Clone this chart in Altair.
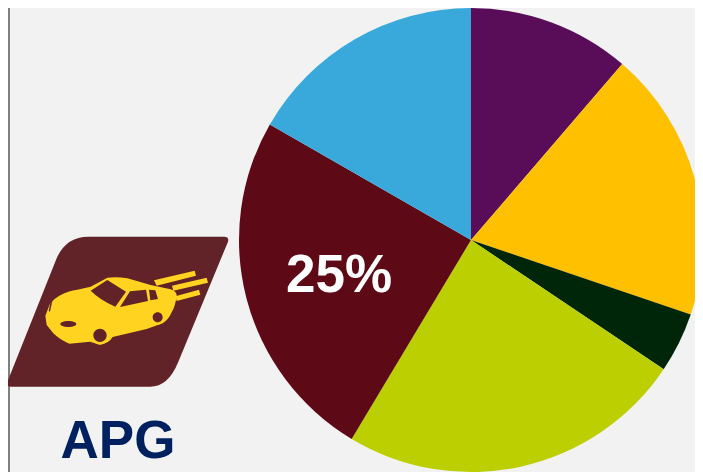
import altair as alt
import pandas as pd

# Pie values, clockwise from twelve o'clock
slices = ["A", "B", "C", "D", "E", "F"]
shares = [11.3, 18.9, 4.2, 24.2, 24.7, 16.7]
colours = ["#590D59", "#FFC000", "#00260A", "#BCCF00", "#5E0916", "#39A9DC"]
order = [0, 1, 2, 3, 4, 5]

W, H = 687, 464
PAGE = 8  # page margin in front of the chart


def ell(cx, cy, rx, ry):
    k = 0.5523
    return (f"M{cx-rx},{cy} C{cx-rx},{cy-k*ry} {cx-k*rx},{cy-ry} {cx},{cy-ry} "
            f"C{cx+k*rx},{cy-ry} {cx+rx},{cy-k*ry} {cx+rx},{cy} "
            f"C{cx+rx},{cy+k*ry} {cx+k*rx},{cy+ry} {cx},{cy+ry} "
            f"C{cx-k*rx},{cy+ry} {cx-rx},{cy+k*ry} {cx-rx},{cy} Z")


# Logo glyphs, drawn in a 3x grid anchored at (0, 225) of the picture
BADGE = ("M265,35 L672,35 Q688,35 684,50 L535,410 Q505,485 450,485 L32,485 Q17,485 23,468 "
         "L170,100 Q198,35 265,35 Z")
BODY = ("M136,272 L150,236 Q160,222 178,212 Q205,197 232,194 L272,185 L322,158 "
        "Q350,154 382,160 L452,180 L512,193 Q532,200 530,215 Q525,245 515,262 "
        "Q505,285 488,295 L440,312 L338,336 Q325,357 300,358 Q285,355 270,350 "
        "L208,356 Q180,345 160,325 L140,300 Z")
STREAKS = ("M462,166 L584,137 L588,152 L470,182 Z "
           "M516,182 L620,158 L624,173 L520,197 Z "
           "M526,214 L597,194 L601,209 L530,228 Z")
DARK = ("M272,197 L322,165 L378,200 L346,245 Q300,225 272,197 Z "
        "M360,246 L390,199 L438,194 L444,228 Z "
        "M447,194 L466,196 L474,222 L451,226 Z "
        "M157,228 L150,260 L146,258 L151,235 Z "
        + ell(205, 297, 24, 9) + " " + ell(300, 331, 20, 20) + " " + ell(473, 277, 15, 15))
RINGS = ell(300, 331, 28, 28) + " " + ell(473, 277, 22, 22)
logo_layers = [(BADGE, "#612228"), (BODY, "#FFD320"), (STREAKS, "#FFD320"),
               (RINGS, "#FFD320"), (DARK, "#612228")]

base = alt.Chart(pd.DataFrame({"slice": slices, "share": shares, "order": order}))
pie = base.mark_arc(radius=232, clip=False).encode(
    theta=alt.Theta("share:Q", stack=True),
    order=alt.Order("order:Q"),
    color=alt.Color("slice:N", scale=alt.Scale(domain=slices, range=colours), legend=None),
    x=alt.value(471 - PAGE),
    y=alt.value(240 - PAGE),
)

one = alt.Chart(pd.DataFrame({"a": [0]}))
edge = one.mark_rule(color="#808080", strokeWidth=2).encode(
    x=alt.value(1), y=alt.value(0), y2=alt.value(H))

glyphs = [
    one.mark_point(shape=path, filled=True, fill=col, opacity=1, size=4 / 9, strokeWidth=0).encode(
        x=alt.value(-PAGE), y=alt.value(225 - PAGE))
    for path, col in logo_layers
]

pct = one.mark_text(text="25%", font="Liberation Sans", fontWeight="bold", fontSize=53,
                    color="white", align="center", baseline="alphabetic").encode(
    x=alt.value(339 - PAGE), y=alt.value(292 - PAGE))
apg = one.mark_text(text="APG", font="Liberation Sans", fontWeight="bold", fontSize=53,
                    color="#002060", align="center", baseline="alphabetic").encode(
    x=alt.value(118 - PAGE), y=alt.value(458 - PAGE))

chart = alt.layer(pie, edge, *glyphs, pct, apg).properties(
    width=W, height=H, background="#F2F2F2", padding=0,
    autosize=alt.AutoSizeParams(type="none"),
).configure_view(stroke=None)

chart.save("out.html", embed_options={"renderer": "svg", "actions": False})
